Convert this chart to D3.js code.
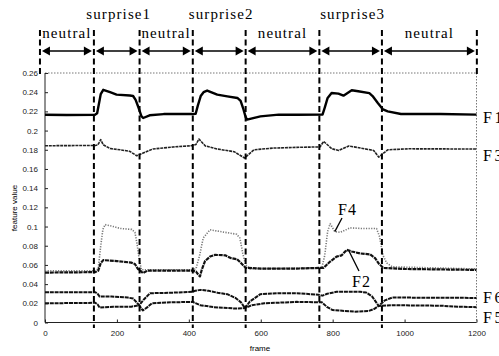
<!DOCTYPE html>
<html>
<head>
  <meta charset="UTF-8">
  <title>Feature values per frame</title>
  <script src="https://d3js.org/d3.v7.min.js"></script>
  <style>
    body {
      margin: 0;
      padding: 0;
      background-color: #ffffff;
    }
    .axis text {
      font-family: "Liberation Sans", Arial, sans-serif;
      font-size: 8px;
      fill: #222;
    }
    .axis path, .axis line {
      stroke: #222;
    }
    .serif {
      font-family: "Liberation Serif", "Times New Roman", serif;
      fill: #000;
    }
  </style>
</head>
<body>
  <svg id="chart" width="499" height="356"></svg>
  <script>
    // frame boundaries between the phases (outer ones mark the ends of the header)
    const boundaries = [-14, 136, 263, 411, 558, 763, 937, 1201];
    const phases = ["neutral", "surprise1", "neutral", "surprise2", "neutral", "surprise3", "neutral"];

    const yTicks = [0, 0.02, 0.04, 0.06, 0.08, 0.1, 0.12, 0.14, 0.16, 0.18, 0.2, 0.22, 0.24, 0.26];
    const xTicks = [0, 200, 400, 600, 800, 1000, 1200];

    // [frame, value]
    const F1 = [[0,0.2165],[60,0.2163],[139,0.2165],[145,0.218],[150,0.228],[155,0.238],[162,0.2425],[181,0.240],[199,0.2375],[236,0.2365],[245,0.236],[252,0.232],[260,0.224],[268,0.215],[273,0.2131],[291,0.2159],[330,0.2172],[410,0.2172],[419,0.2175],[425,0.226],[433,0.236],[441,0.240],[451,0.2417],[479,0.2375],[507,0.2357],[535,0.234],[544,0.231],[552,0.222],[558,0.214],[562,0.2114],[599,0.2148],[650,0.2166],[700,0.2165],[772,0.2168],[778,0.224],[786,0.234],[797,0.2392],[816,0.2385],[830,0.2364],[853,0.242],[871,0.241],[902,0.239],[911,0.236],[925,0.229],[940,0.222],[953,0.220],[990,0.2173],[1100,0.2172],[1200,0.2166]];
    const F3 = [[0,0.1842],[140,0.1845],[147,0.185],[155,0.1905],[162,0.1852],[181,0.1813],[209,0.180],[236,0.1783],[255,0.1738],[273,0.1766],[300,0.1808],[356,0.1829],[407,0.1842],[420,0.1855],[428,0.1912],[446,0.184],[479,0.1808],[526,0.178],[555,0.1714],[581,0.180],[637,0.1818],[700,0.1825],[765,0.183],[775,0.1887],[798,0.181],[817,0.1793],[845,0.184],[877,0.1818],[914,0.1793],[928,0.1724],[953,0.180],[1010,0.181],[1200,0.1808]];
    const F4 = [[0,0.054],[140,0.054],[148,0.056],[155,0.080],[161,0.097],[167,0.1020],[190,0.100],[209,0.098],[241,0.097],[250,0.094],[256,0.082],[262,0.066],[268,0.055],[300,0.055],[410,0.055],[420,0.056],[430,0.070],[440,0.088],[459,0.0966],[500,0.094],[533,0.092],[542,0.088],[550,0.072],[558,0.060],[570,0.056],[700,0.0565],[770,0.057],[778,0.070],[786,0.095],[793,0.103],[806,0.0947],[821,0.0940],[839,0.097],[848,0.0986],[880,0.098],[922,0.098],[930,0.090],[940,0.070],[950,0.062],[966,0.058],[1200,0.0558]];
    const F2 = [[0,0.052],[140,0.0525],[148,0.054],[155,0.062],[162,0.065],[200,0.064],[240,0.0624],[250,0.061],[258,0.056],[265,0.054],[272,0.0516],[285,0.054],[330,0.054],[410,0.054],[420,0.053],[426,0.050],[431,0.048],[436,0.055],[445,0.064],[459,0.0687],[473,0.0705],[501,0.070],[518,0.067],[534,0.066],[545,0.062],[558,0.057],[600,0.0562],[700,0.0562],[775,0.057],[783,0.060],[793,0.0635],[811,0.0687],[825,0.070],[839,0.0757],[853,0.074],[876,0.072],[904,0.071],[918,0.067],[929,0.061],[941,0.057],[1000,0.0558],[1200,0.0548]];
    const F6 = [[0,0.0315],[140,0.0315],[146,0.030],[152,0.027],[185,0.027],[230,0.026],[245,0.025],[262,0.018],[275,0.024],[292,0.0305],[350,0.031],[409,0.032],[418,0.033],[432,0.034],[455,0.033],[480,0.031],[507,0.0295],[530,0.0255],[545,0.021],[556,0.015],[570,0.022],[599,0.0295],[650,0.0305],[700,0.0305],[760,0.029],[772,0.028],[785,0.030],[811,0.032],[876,0.032],[893,0.0313],[910,0.027],[928,0.0172],[945,0.023],[966,0.026],[1100,0.0258],[1200,0.0256]];
    const F5 = [[0,0.020],[140,0.0205],[146,0.019],[152,0.0155],[190,0.0165],[240,0.0165],[262,0.018],[272,0.0125],[285,0.016],[297,0.020],[350,0.021],[410,0.0215],[420,0.020],[432,0.018],[470,0.016],[530,0.0145],[556,0.015],[575,0.018],[610,0.020],[700,0.0215],[770,0.021],[785,0.016],[800,0.013],[860,0.0113],[900,0.012],[915,0.014],[928,0.0172],[966,0.018],[1100,0.0175],[1150,0.0165],[1200,0.016]];

    const series = [
      { name: "F4", data: F4, color: "#777", width: 1.6, dash: "1.2,1.4" },
      { name: "F2", data: F2, color: "#111", width: 2.2, dash: "4,0.8" },
      { name: "F5", data: F5, color: "#111", width: 2, dash: "4,0.8" },
      { name: "F6", data: F6, color: "#111", width: 2, dash: "4,0.8" },
      { name: "F3", data: F3, color: "#222", width: 1.6, dash: "3,0.8" },
      { name: "F1", data: F1, color: "#000", width: 2.4, dash: null }
    ];

    const endLabels = ["F1", "F3", "F6", "F5"];

    const svg = d3.select("#chart");
    const x = d3.scaleLinear().domain([0, 1200]).range([45, 476.5]);
    const y = d3.scaleLinear().domain([0, 0.26]).range([322.5, 73]);

    // frame border: dotted top and right
    svg.append("line")
      .attr("x1", x(0)).attr("x2", x(1200))
      .attr("y1", y(0.26)).attr("y2", y(0.26))
      .attr("stroke", "#777").attr("stroke-width", 1).attr("stroke-dasharray", "1.5,1.5");
    svg.append("line")
      .attr("x1", x(1200)).attr("x2", x(1200))
      .attr("y1", y(0.26)).attr("y2", y(0))
      .attr("stroke", "#777").attr("stroke-width", 1).attr("stroke-dasharray", "1.5,1.5");

    svg.append("g")
      .attr("class", "axis")
      .attr("transform", `translate(${x(0)},0)`)
      .call(d3.axisLeft(y).tickValues(yTicks).tickSize(-3).tickPadding(7)
        .tickFormat(d => d3.format("~g")(d)))
      .call(g => g.select(".domain").attr("d", `M0,${y(0)}V${y(0.26)}`));

    svg.append("g")
      .attr("class", "axis")
      .attr("transform", `translate(0,${y(0)})`)
      .call(d3.axisBottom(x).tickValues(xTicks).tickSize(-3).tickPadding(8)
        .tickFormat(d3.format("d")))
      .call(g => g.select(".domain").attr("d", `M${x(0)},0H${x(1200)}`));

    svg.append("text")
      .attr("transform", `translate(17,208) rotate(-90)`)
      .attr("text-anchor", "middle")
      .style("font-family", "'Liberation Sans', Arial, sans-serif")
      .style("font-size", "8px")
      .text("feature value");

    svg.append("text")
      .attr("x", 260).attr("y", 351)
      .attr("text-anchor", "middle")
      .style("font-family", "'Liberation Sans', Arial, sans-serif")
      .style("font-size", "8px")
      .text("frame");

    // curves
    const line = d3.line()
      .x(d => x(d[0]))
      .y(d => y(d[1]));

    series.forEach(function(s) {
      svg.append("path")
        .datum(s.data)
        .attr("fill", "none")
        .attr("stroke", s.color)
        .attr("stroke-width", s.width)
        .attr("stroke-linejoin", "round")
        .attr("stroke-dasharray", s.dash)
        .attr("d", line);
    });

    // phase boundaries
    boundaries.forEach(function(b, i) {
      const outer = i === 0 || i === boundaries.length - 1;
      svg.append("line")
        .attr("x1", x(b)).attr("x2", x(b))
        .attr("y1", 30).attr("y2", outer ? 76 : 328)
        .attr("stroke", "#000")
        .attr("stroke-width", 2)
        .attr("stroke-dasharray", "6,3.5");
    });

    // header arrows and labels
    const arrowY = 51;
    phases.forEach(function(p, i) {
      const x1 = x(boundaries[i]) + 2;
      const x2 = x(boundaries[i + 1]) - 2;
      svg.append("line")
        .attr("x1", x1 + 4).attr("x2", x2 - 4)
        .attr("y1", arrowY).attr("y2", arrowY)
        .attr("stroke", "#000").attr("stroke-width", 1.6);
      svg.append("path")
        .attr("d", `M${x1},${arrowY}L${x1 + 8},${arrowY - 4.5}L${x1 + 8},${arrowY + 4.5}Z`)
        .attr("fill", "#000");
      svg.append("path")
        .attr("d", `M${x2},${arrowY}L${x2 - 8},${arrowY - 4.5}L${x2 - 8},${arrowY + 4.5}Z`)
        .attr("fill", "#000");

      const isNeutral = p === "neutral";
      svg.append("text")
        .attr("class", "serif")
        .attr("x", (x(boundaries[i]) + x(boundaries[i + 1])) / 2 + (isNeutral ? 0 : 2))
        .attr("y", isNeutral ? 38 : 19)
        .attr("text-anchor", "middle")
        .style("font-size", "15px")
        .style("letter-spacing", "1.1px")
        .text(p);
    });

    // right hand labels (cut by the edge, as in the original)
    const labelY = { F1: 123, F3: 161, F6: 303, F5: 323 };
    endLabels.forEach(function(l) {
      svg.append("text")
        .attr("class", "serif")
        .attr("x", 483)
        .attr("y", labelY[l])
        .style("font-size", "16px")
        .style("letter-spacing", "2.5px")
        .text(l);
    });

    // F4 and F2 call-outs
    svg.append("text").attr("class", "serif")
      .attr("x", 338).attr("y", 215)
      .style("font-size", "16px").style("letter-spacing", "1px")
      .text("F4");
    svg.append("line")
      .attr("x1", 342).attr("y1", 218)
      .attr("x2", x(806)).attr("y2", y(0.0947))
      .attr("stroke", "#000").attr("stroke-width", 1.3);

    svg.append("text").attr("class", "serif")
      .attr("x", 352).attr("y", 287)
      .style("font-size", "16px").style("letter-spacing", "1px")
      .text("F2");
    svg.append("line")
      .attr("x1", 359).attr("y1", 271)
      .attr("x2", x(846)).attr("y2", y(0.074))
      .attr("stroke", "#000").attr("stroke-width", 1.3);
  </script>
</body>
</html>
